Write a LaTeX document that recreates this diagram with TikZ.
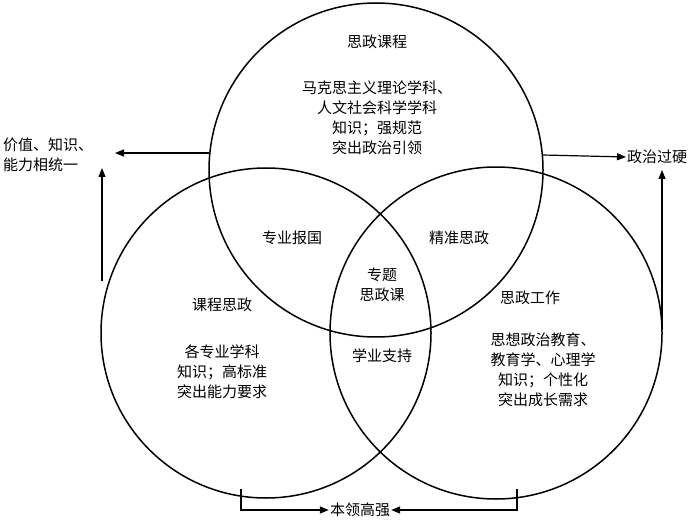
\documentclass[tikz,border=0pt]{standalone}
\usepackage{fontspec}
\setmainfont{Noto Sans CJK SC}
\usetikzlibrary{arrows.meta}
\begin{document}
\begin{tikzpicture}[x=1pt,y=-1pt,
  circ/.style={line width=1.5pt},
  arr/.style={line width=1.2pt,-{Triangle[length=9pt,width=7pt]}},
  txt/.style={font=\fontsize{15}{20}\selectfont,align=center,inner sep=1pt}]
\useasboundingbox (0,0) rectangle (700,521);
\draw[circ] (376,170) circle (167);
\draw[circ] (266,333) circle (165);
\draw[circ] (496,333) circle (166);
\node[txt] (t1) at (377,42) {思政课程};
\node[txt] (t2) at (377,118) {马克思主义理论学科、\\人文社会科学学科\\知识；强规范\\突出政治引领};
\node[txt] (l1) at (222,305) {课程思政};
\node[txt] (l2) at (222,372) {各专业学科\\知识；高标准\\突出能力要求};
\node[txt] (r1) at (530,298) {思政工作};
\node[txt] (r2) at (543,370) {思想政治教育、\\教育学、心理学\\知识；个性化\\突出成长需求};
\node[txt] (a) at (292,238) {专业报国};
\node[txt] (b) at (459,238) {精准思政};
\node[txt] (c) at (382,285) {专题\\思政课};
\node[txt] (d) at (382,356) {学业支持};
\node[txt,align=left,anchor=west] (L) at (2,155) {价值、知识、\\能力相统一};
\node[txt,anchor=west] (R) at (626,157) {政治过硬};
\node[txt] (B) at (360,510) {本领高强};
\coordinate (p1) at (210,153);
\coordinate (p2) at (102,281);
\coordinate (p3) at (543,155);
\coordinate (p4) at (662,330);
\coordinate (p5) at (241,489);
\coordinate (p6) at (517,489);
\draw[arr] (p1) -- (115,153);
\draw[arr] (p2) -- (102,168);
\draw[arr] (p3) -- (R.west);
\draw[arr] (p4) -- (662,170);
\draw[arr] (p5) -- (241,510) -- (B.west);
\draw[arr] (p6) -- (517,510) -- (B.east);
\end{tikzpicture}
\end{document}
